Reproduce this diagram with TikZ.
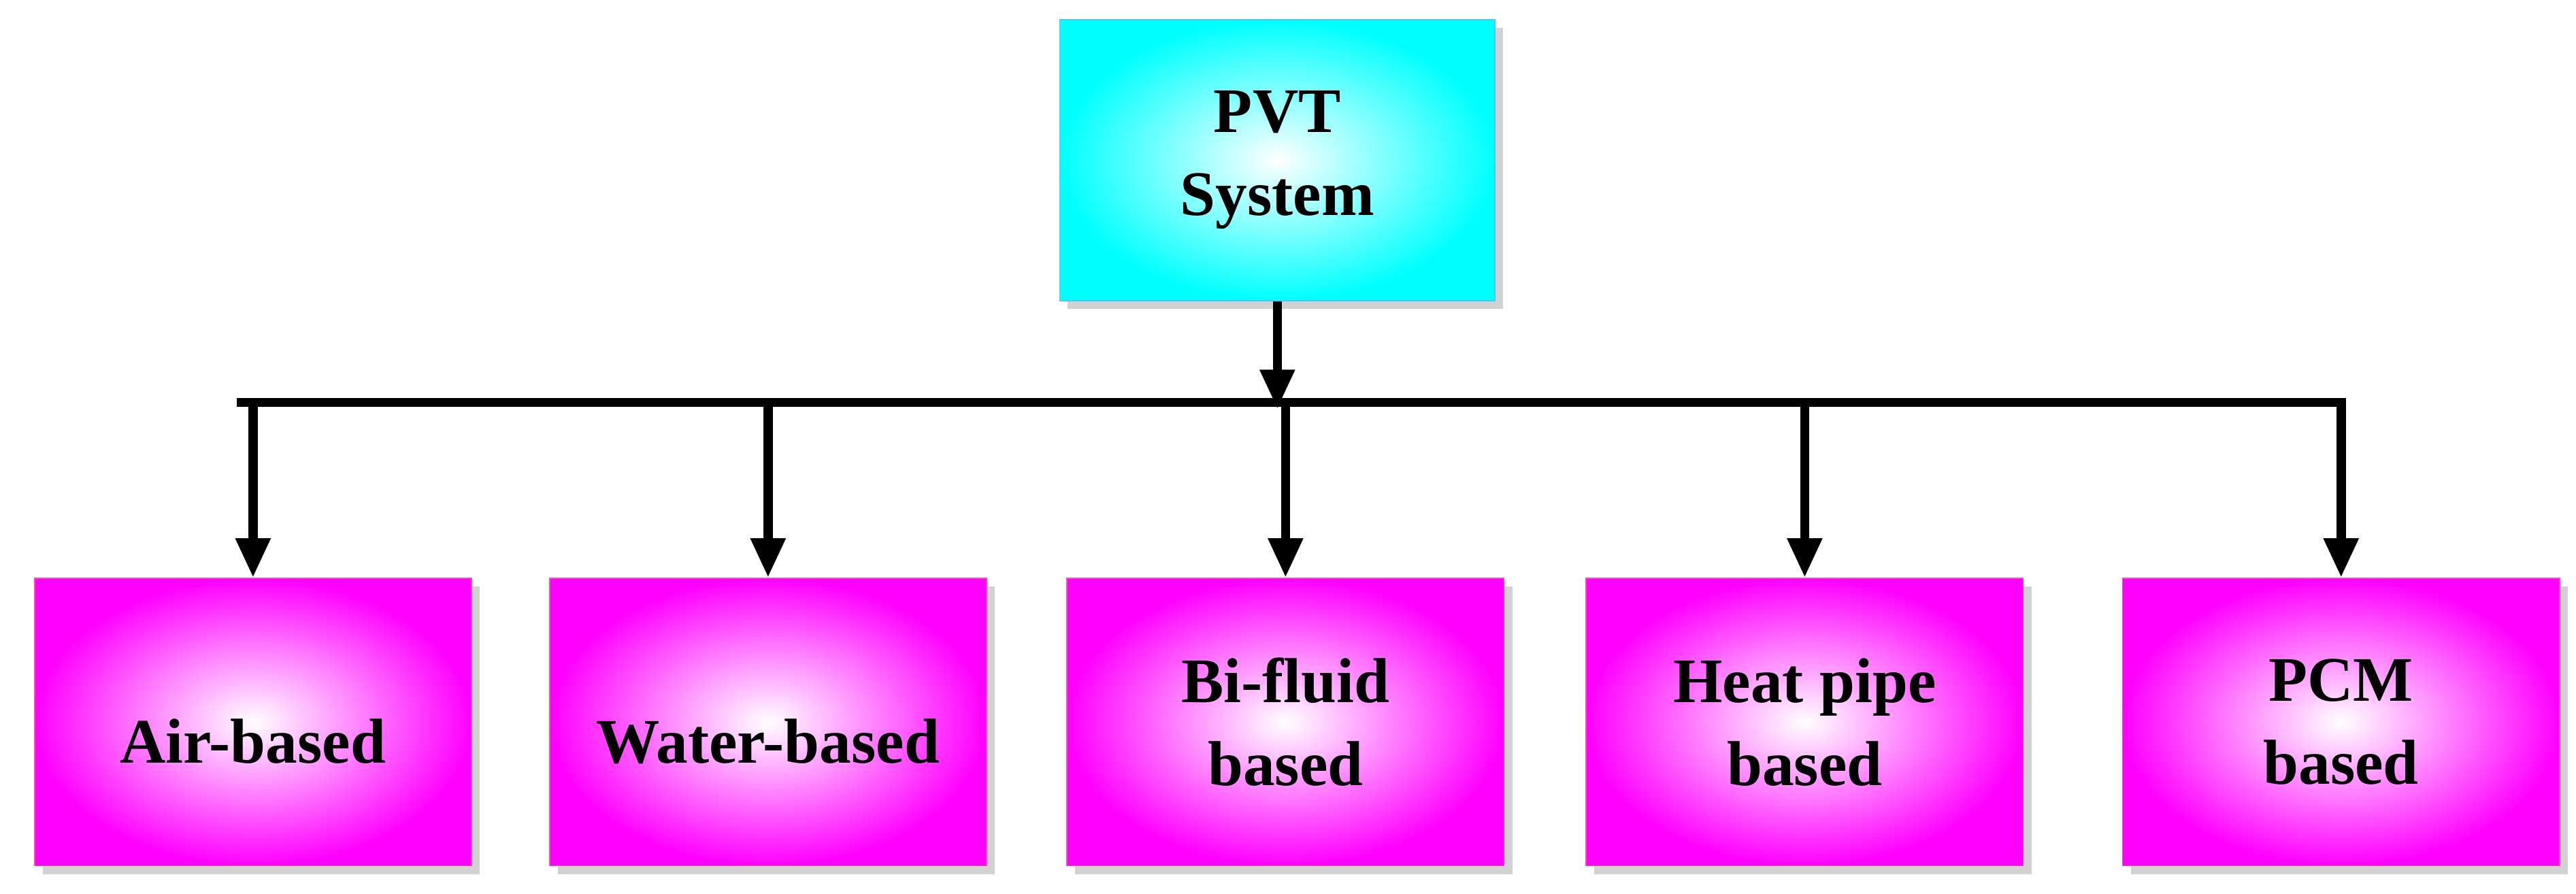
\documentclass[tikz,border=0pt]{standalone}
\usepackage{fontspec}
\setmainfont{Liberation Serif}
\usetikzlibrary{arrows.meta,shadows}

\tikzset{
  box/.style={draw=magenta!70!white, line width=1pt, shading=radial,
    inner color=white, outer color=magenta, drop shadow={shadow xshift=0.25cm, shadow yshift=-0.25cm, fill=gray!70},
    minimum width=13.3cm, minimum height=8.75cm, align=center,
    font=\fontsize{55}{72}\selectfont\bfseries},
  topbox/.style={box, draw=cyan!70!white, outer color=cyan, minimum width=13.25cm, minimum height=8.55cm},
  link/.style={line width=8pt},
  down/.style={link, -{Triangle[length=1.2cm,width=1cm]}}
}

\begin{document}
\begin{tikzpicture}[x=0.05cm,y=0.05cm]
  \useasboundingbox (0,0) rectangle (1568,544);
  \node (pvt) at (777.5,446.5) [topbox] {PVT\\System};
  \node (air) at (154,104.5) [box] {\\Air-based};
  \node (water) at (467.5,104.5) [box] {\\Water-based};
  \node (bifluid) at (782.5,104.5) [box] {Bi-fluid\\based};
  \node (heatpipe) at (1098.5,104.5) [box] {Heat pipe\\based};
  \node (pcm) at (1425,104.5) [box] {PCM\\based};
  \coordinate (bus) at (777.5,299);
  % main line and branches
  \draw [down] (pvt.south) -- ([yshift=-0.2cm]bus);
  \draw [link] ([xshift=-14pt]air.north |- bus) -- ([xshift=4pt]pcm.north |- bus);
  \foreach \n in {air,water,bifluid,heatpipe,pcm}
    \draw [down] (\n.north |- bus) -- (\n);
\end{tikzpicture}
\end{document}
